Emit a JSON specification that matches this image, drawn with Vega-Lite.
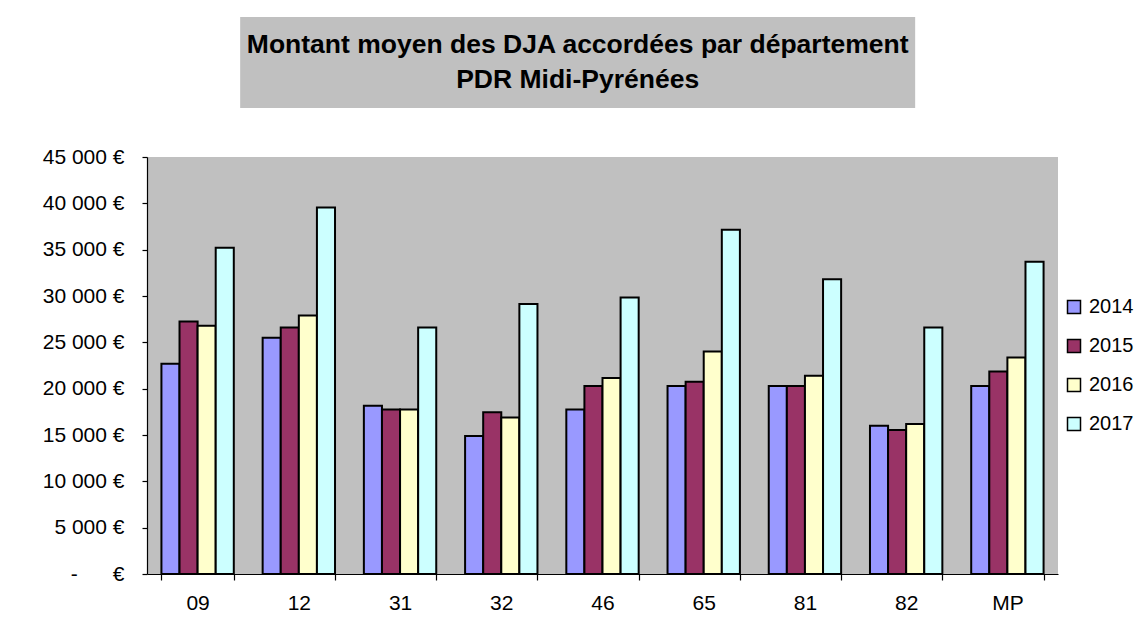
{
  "$schema": "https://vega.github.io/schema/vega-lite/v6.json",
  "background": "white",
  "padding": {"left": 42, "top": 17, "right": 0, "bottom": 0},
  "autosize": {"type": "pad"},
  "config": {
    "font": "Liberation Sans",
    "view": {"stroke": null},
    "concat": {"spacing": 38}
  },
  "center": true,
  "vconcat": [
    {
      "width": 675,
      "height": 91,
      "view": {"fill": "#C0C0C0", "stroke": null},
      "data": {"values": [
        {"i": 0, "line": "Montant moyen des DJA accordées par département"},
        {"i": 1, "line": "PDR Midi-Pyrénées"}
      ]},
      "mark": {"type": "text", "font": "Liberation Sans", "fontWeight": "bold", "fontSize": 26.5, "color": "black", "baseline": "middle", "align": "center"},
      "encoding": {
        "y": {
          "field": "i", "type": "ordinal", "title": null,
          "scale": {"type": "point", "padding": 0.8},
          "axis": {"orient": "right", "domain": false, "ticks": false, "labelColor": "transparent", "labelFontSize": 21, "labelPadding": 38}
        },
        "text": {"field": "line", "type": "nominal"}
      }
    },
    {
      "width": 911,
      "height": 417,
      "view": {"fill": "#C0C0C0", "stroke": null},
      "data": {"values": [
        {"dept": "09", "year": "2014", "value": 22700},
        {"dept": "09", "year": "2015", "value": 27250},
        {"dept": "09", "year": "2016", "value": 26800},
        {"dept": "09", "year": "2017", "value": 35200},
        {"dept": "12", "year": "2014", "value": 25500},
        {"dept": "12", "year": "2015", "value": 26600},
        {"dept": "12", "year": "2016", "value": 27900},
        {"dept": "12", "year": "2017", "value": 39550},
        {"dept": "31", "year": "2014", "value": 18150},
        {"dept": "31", "year": "2015", "value": 17750},
        {"dept": "31", "year": "2016", "value": 17750},
        {"dept": "31", "year": "2017", "value": 26600},
        {"dept": "32", "year": "2014", "value": 14900},
        {"dept": "32", "year": "2015", "value": 17450},
        {"dept": "32", "year": "2016", "value": 16900},
        {"dept": "32", "year": "2017", "value": 29150},
        {"dept": "46", "year": "2014", "value": 17750},
        {"dept": "46", "year": "2015", "value": 20300},
        {"dept": "46", "year": "2016", "value": 21150},
        {"dept": "46", "year": "2017", "value": 29850},
        {"dept": "65", "year": "2014", "value": 20300},
        {"dept": "65", "year": "2015", "value": 20750},
        {"dept": "65", "year": "2016", "value": 24000},
        {"dept": "65", "year": "2017", "value": 37150},
        {"dept": "81", "year": "2014", "value": 20300},
        {"dept": "81", "year": "2015", "value": 20300},
        {"dept": "81", "year": "2016", "value": 21400},
        {"dept": "81", "year": "2017", "value": 31800},
        {"dept": "82", "year": "2014", "value": 16000},
        {"dept": "82", "year": "2015", "value": 15550},
        {"dept": "82", "year": "2016", "value": 16200},
        {"dept": "82", "year": "2017", "value": 26600},
        {"dept": "MP", "year": "2014", "value": 20300},
        {"dept": "MP", "year": "2015", "value": 21850},
        {"dept": "MP", "year": "2016", "value": 23350},
        {"dept": "MP", "year": "2017", "value": 33700}
      ]},
      "mark": {"type": "bar", "stroke": "black", "strokeWidth": 2},
      "encoding": {
        "x": {
          "field": "dept", "type": "nominal", "sort": null, "title": null,
          "scale": {"paddingInner": 0.285, "paddingOuter": 0.1425},
          "axis": {
            "tickBand": "extent", "labelAngle": 0, "labelFontSize": 21, "labelColor": "black",
            "labelPadding": 12, "tickSize": 6, "tickColor": "black", "domainColor": "black",
            "domainWidth": 1.2, "tickWidth": 1.2
          }
        },
        "xOffset": {"field": "year", "type": "nominal", "scale": {"paddingInner": 0, "paddingOuter": 0}},
        "y": {
          "field": "value", "type": "quantitative", "title": null,
          "scale": {"domain": [0, 45000], "nice": false},
          "axis": {
            "values": [0, 5000, 10000, 15000, 20000, 25000, 30000, 35000, 40000, 45000],
            "grid": false, "labelFontSize": 21, "labelColor": "black",
            "labelPadding": 18, "tickSize": 5, "tickColor": "black", "domainColor": "black",
            "domainWidth": 1.2, "tickWidth": 1.2,
            "labelExpr": "datum.value == 0 ? '-\u00a0\u00a0\u00a0\u00a0\u00a0\u00a0€' : replace(format(datum.value, ','), ',', '\u00a0') + '\u00a0€'"
          }
        },
        "color": {
          "field": "year", "type": "nominal", "title": null,
          "scale": {"domain": ["2014", "2015", "2016", "2017"], "range": ["#9999FF", "#993366", "#FFFFCC", "#CCFFFF"]},
          "legend": {
            "orient": "none", "legendX": 917, "legendY": 280,
            "symbolType": "square", "symbolSize": 169, "symbolStrokeColor": "black", "symbolStrokeWidth": 1.5,
            "symbolOpacity": 1, "labelFontSize": 20, "labelColor": "black", "rowPadding": 19, "labelOffset": 5
          }
        }
      }
    }
  ]
}
